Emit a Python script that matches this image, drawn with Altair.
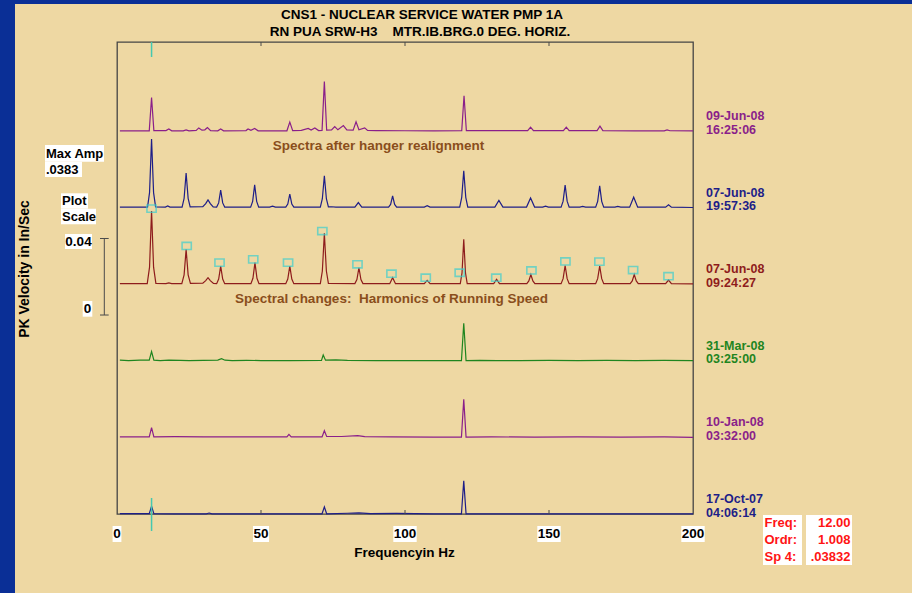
import altair as alt
import pandas as pd

# ------------------------------------------------------------------ data
TITLE_LINES = ["CNS1 - NUCLEAR SERVICE WATER PMP 1A",
               "RN PUA SRW-H3\u00a0\u00a0\u00a0\u00a0MTR.IB.BRG.0 DEG. HORIZ."]
Y_TITLE = "PK Velocity in In/Sec"
X_TITLE = "Frequencyin Hz"
X_TICKS = [0, 50, 100, 150, 200]
X_TICK_LABELS = ["0", "50", "100", "150", "200"]
INNER_TICKS = [50, 100, 150]

TRACE_DATES = ["09-Jun-08", "07-Jun-08", "07-Jun-08", "31-Mar-08", "10-Jan-08", "17-Oct-07"]
TRACE_TIMES = ["16:25:06", "19:57:36", "09:24:27", "03:25:00", "03:32:00", "04:06:14"]
TRACE_OFFSETS = [0.20, 0.16, 0.12, 0.08, 0.04, 0.00]          # in/sec waterfall offset
TRACE_COLORS = ["#8A1F8A", "#1E1E88", "#8E1C1C", "#1F851F", "#8A1F8A", "#1E1E88"]

# spectra: [frequency Hz, amplitude in/sec]
SPEC_09JUN = [[1, .0003], [11.2, .0003], [12, .0177], [12.8, .0004], [17, .0004], [18, .0012], [19, .0003],
              [23, .0003], [24, .0008], [25, .0003], [27.5, .0005], [28.4, .0018], [29.5, .0006], [30.5, .0008],
              [31.4, .0020], [32.5, .0004], [35, .0003], [36, .0012], [37, .0003], [44.8, .0004], [45.5, .0012],
              [46.5, .0005], [47.8, .0015], [49, .0003], [59, .0003], [60, .0048], [61, .0004], [64, .0005],
              [66.4, .0015], [67.4, .0007], [68.7, .0018], [70, .0004], [71.2, .0005], [72, .0261], [72.8, .0006],
              [74.5, .0008], [75.6, .0025], [76.7, .0008], [78.6, .0030], [79.8, .0008], [82, .0006], [83, .0050],
              [84, .0008], [86, .0018], [87, .0005], [90, .0004], [100, .0003], [110, .0002], [119.7, .0003],
              [120.5, .0186], [121.3, .0004], [130, .0004], [142.6, .0004], [143.6, .0022], [144.6, .0004],
              [155, .0004], [156, .0022], [157, .0004], [166.7, .0004], [167.7, .0027], [168.7, .0004],
              [180, .0003], [190, .0003], [191, .0008], [192, .0003], [200, .0002]]
SPEC_07JUN_B = [[1, .0004], [10.6, .0004], [11.3, .0080], [12, .0360], [12.7, .0080], [13.4, .0005],
                [16.8, .0004], [17.6, .0010], [18.4, .0004], [22.6, .0004], [23.3, .0050], [24, .0182],
                [24.7, .0050], [25.4, .0005], [29.8, .0006], [30.8, .0022], [31.6, .0042], [32.4, .0022],
                [33.4, .0005], [34.6, .0004], [35.3, .0026], [36, .0093], [36.7, .0026], [37.4, .0004],
                [46.4, .0004], [47.1, .0034], [47.8, .0120], [48.5, .0034], [49.2, .0004], [53, .0004],
                [54, .0009], [55, .0004], [58.6, .0004], [59.3, .0020], [60, .0072], [60.7, .0020], [61.4, .0004],
                [70.6, .0004], [71.3, .0048], [72, .0168], [72.7, .0048], [73.4, .0005], [74.5, .0006],
                [76, .0004], [82.6, .0004], [83.8, .0028], [85, .0004], [94.3, .0004], [95, .0018],
                [95.7, .0063], [96.4, .0018], [97.1, .0004], [106.7, .0004], [107.7, .0011], [108.7, .0004],
                [119, .0004], [119.7, .0055], [120.4, .0194], [121.1, .0055], [121.8, .0004], [131.2, .0004],
                [132.6, .0039], [134, .0004], [142.2, .0004], [143.6, .0052], [145, .0004], [147.8, .0004],
                [148.8, .0009], [149.8, .0004], [154.2, .0004], [154.9, .0035], [155.6, .0119], [156.3, .0035],
                [157, .0004], [160.7, .0004], [161.7, .0008], [162.7, .0004], [166.2, .0004], [166.9, .0034],
                [167.6, .0115], [168.3, .0034], [169, .0004], [172.9, .0004], [173.9, .0008], [174.9, .0004],
                [178, .0004], [179.4, .0056], [180.8, .0004], [190.5, .0004], [191.5, .0016], [192.5, .0004],
                [200, .0002]]
SPEC_07JUN_A = [[1, .0004], [10.5, .0004], [11.3, .0090], [12, .0383], [12.7, .0090], [13.5, .0005],
                [17, .0004], [18, .0008], [19, .0004], [22.5, .0004], [23.3, .0050], [24, .0183], [24.7, .0050],
                [25.5, .0005], [29.8, .0006], [30.8, .0020], [31.6, .0035], [32.4, .0020], [33.5, .0005],
                [34.6, .0004], [35.3, .0028], [36, .0096], [36.7, .0028], [37.4, .0004], [46.5, .0004],
                [47.2, .0032], [47.9, .0114], [48.6, .0032], [49.3, .0004], [58.6, .0004], [59.3, .0028],
                [60, .0096], [60.7, .0028], [61.4, .0004], [70.6, .0004], [71.3, .0070], [72, .0267],
                [72.7, .0070], [73.4, .0005], [82.6, .0004], [83.3, .0025], [84, .0087], [84.7, .0025],
                [85.4, .0004], [94.7, .0004], [95.7, .0035], [96.7, .0004], [106.7, .0004], [107.7, .0021],
                [108.7, .0004], [119.2, .0004], [119.8, .0060], [120.4, .0236], [121, .0060], [121.6, .0004],
                [130.8, .0004], [131.8, .0026], [132.8, .0004], [142.3, .0004], [143, .0018], [143.7, .0052],
                [144.4, .0018], [145.1, .0004], [154.2, .0004], [154.9, .0030], [155.6, .0099], [156.3, .0030],
                [157, .0004], [166.2, .0004], [166.9, .0030], [167.6, .0096], [168.3, .0030], [169, .0004],
                [178.2, .0004], [178.9, .0018], [179.6, .0052], [180.3, .0018], [181, .0004], [190.5, .0004],
                [191.5, .0023], [192.5, .0004], [200, .0003]]
SPEC_31MAR = [[1, .0004], [4, .0002], [8, .0004], [11.2, .0004], [12, .0049], [12.8, .0004], [15, .0002],
              [18, .0004], [22, .0003], [25, .0002], [30, .0003], [35, .0004], [36.3, .0012], [37.5, .0004],
              [40, .0002], [45, .0003], [50, .0002], [60, .0002], [71.0, .0003], [71.6, .0031], [72.4, .0004],
              [76, .0006], [80, .0003], [90, .0002], [100, .0002], [110, .0002], [119.6, .0002], [120.4, .0197],
              [121.2, .0002], [126, .0003], [132, .0002], [140, .0002], [150, .0003], [160, .0002], [170, .0003],
              [180, .0002], [190, .0003], [200, .0002]]
SPEC_10JAN = [[1, .0003], [11.2, .0003], [12, .0052], [12.8, .0003], [20, .0004], [30, .0003], [40, .0003],
              [50, .0003], [59, .0003], [59.7, .0016], [60.5, .0003], [71.2, .0003], [72, .0035], [72.8, .0005],
              [78, .0005], [83.6, .0010], [86, .0004], [95, .0003], [110, .0002], [119.6, .0002], [120.4, .0200],
              [121.2, .0002], [130, .0003], [145, .0002], [160, .0003], [175, .0002], [190, .0003], [200, .0001]]
SPEC_17OCT = [[1, .0002], [11.2, .0002], [12, .0040], [12.8, .0002], [20, .0001], [31, .0001], [32, .0005],
              [33, .0001], [50, .0001], [71.2, .0001], [72, .0037], [72.8, .0001], [80, .0004], [84, .0006],
              [88, .0002], [97, .0003], [110, .0001], [119.6, .0001], [120.4, .0173], [121.2, .0001],
              [140, .0001], [170, .0001], [200, .0001]]
SPECTRA = [SPEC_09JUN, SPEC_07JUN_B, SPEC_07JUN_A, SPEC_31MAR, SPEC_10JAN, SPEC_17OCT]

# harmonic markers on the 07-Jun-08 09:24:27 spectrum
MARK_HZ = [12.0, 24.2, 35.6, 47.3, 59.4, 71.3, 83.5, 95.3, 107.2, 119.0, 131.7, 143.9, 155.7, 167.5, 179.2, 191.5]
MARK_AMP = [.0396, .0201, .0114, .0131, .0114, .0279, .0105, .0056, .0035, .0061, .0035, .0073, .0120, .0119,
            .0075, .0043]
MARK_TRACE = 2

CURSOR_HZ = 12.0
PLOT_SCALE = 0.04
SCALE_BAR_BOTTOM = 0.104
MAX_AMP = ".0383"
READOUT_LABELS = ["Freq:", "Ordr:", "Sp 4:"]
READOUT_VALUES = ["12.00", "1.008", ".03832"]
NOTE_TOP = "Spectra after hanger realignment"
NOTE_MID = "Spectral changes:\u00a0\u00a0Harmonics of Running Speed"

# ------------------------------------------------------------------ setup
FONT = "Liberation Sans"
BG = "#EED8A3"
BLUE = "#0A2F96"
BROWN = "#8A4E1C"
CYAN = "#3FCFCF"
OX, OY = 117, 42
W, H = 576, 472

TRACE_IDS = [d + " " + t for d, t in zip(TRACE_DATES, TRACE_TIMES)]
XS = alt.Scale(domain=[0, 200], nice=False, zero=False)
YS = alt.Scale(domain=[0, 0.2467], nice=False, zero=False)
CS = alt.Scale(domain=TRACE_IDS, range=TRACE_COLORS)

rows = []
for tid, off, spec in zip(TRACE_IDS, TRACE_OFFSETS, SPECTRA):
    for hz, amp in spec:
        rows.append({"trace": tid, "hz": hz, "y": off + amp})
spec_df = pd.DataFrame(rows)

mark_df = pd.DataFrame({"hz": MARK_HZ, "y": [TRACE_OFFSETS[MARK_TRACE] + a for a in MARK_AMP]})
lab_df = pd.DataFrame({"trace": TRACE_IDS, "date": TRACE_DATES, "time": TRACE_TIMES, "off": TRACE_OFFSETS})
tick_df = pd.DataFrame({"hz": X_TICKS, "label": X_TICK_LABELS})
inner_df = pd.DataFrame({"hz": INNER_TICKS})
bar_df = pd.DataFrame({"y0": [SCALE_BAR_BOTTOM], "y1": [SCALE_BAR_BOTTOM + PLOT_SCALE]})
barticks_df = pd.DataFrame({"y": [SCALE_BAR_BOTTOM, SCALE_BAR_BOTTOM + PLOT_SCALE]})
ONE = pd.DataFrame({"k": [0]})


def rect_px(x1, y1, x2, y2, fill):
    return alt.Chart(ONE).mark_rect(color=fill).encode(
        x=alt.value(x1 - OX), x2=alt.value(x2 - OX), y=alt.value(y1 - OY), y2=alt.value(y2 - OY))


def text_px(txt, x, y, size=13, color="black", align="left", angle=None):
    kw = dict(text=txt, align=align, baseline="middle", font=FONT, fontSize=size,
              fontWeight="bold", color=color)
    if angle is not None:
        kw["angle"] = angle
    return alt.Chart(ONE).mark_text(**kw).encode(x=alt.value(x - OX), y=alt.value(y - OY))


layers = []
# slide frame
layers.append(rect_px(0, 0, 15, 593, BLUE))
layers.append(rect_px(0, 0, 912, 4, BLUE))

# spectra
layers.append(alt.Chart(spec_df).mark_line(strokeWidth=1.2).encode(
    x=alt.X("hz:Q", scale=XS, axis=None),
    y=alt.Y("y:Q", scale=YS, axis=None),
    color=alt.Color("trace:N", scale=CS, legend=None)))

# harmonic markers
layers.append(alt.Chart(mark_df).mark_point(
    shape="M-1.15,-0.9L1.15,-0.9L1.15,0.9L-1.15,0.9Z", filled=False, size=64,
    strokeWidth=1.6, color=CYAN).encode(
    x=alt.X("hz:Q", scale=XS), y=alt.Y("y:Q", scale=YS)))

# inner ticks top & bottom
layers.append(alt.Chart(inner_df).mark_rule(color="#4a4a4a", strokeWidth=1).encode(
    x=alt.X("hz:Q", scale=XS), y=alt.value(0), y2=alt.value(4)))
layers.append(alt.Chart(inner_df).mark_rule(color="#4a4a4a", strokeWidth=1).encode(
    x=alt.X("hz:Q", scale=XS), y=alt.value(H - 4), y2=alt.value(H)))

# cursor
layers.append(alt.Chart(ONE).mark_rule(color="#45C8B0", strokeWidth=1.5).encode(
    x=alt.datum(CURSOR_HZ, scale=XS), y=alt.value(0), y2=alt.value(15)))
layers.append(alt.Chart(ONE).mark_rule(color="#45C8B0", strokeWidth=1.5).encode(
    x=alt.datum(CURSOR_HZ, scale=XS), y=alt.value(498 - OY), y2=alt.value(531 - OY)))

# x tick labels with white boxes
layers.append(alt.Chart(tick_df).transform_calculate(
    x1="datum.hz - (length(datum.label) * 7.3 + 1.5) / 5.76",
    x2="datum.hz + (length(datum.label) * 7.3 + 1.5) / 5.76").mark_rect(color="white").encode(
    x=alt.X("x1:Q", scale=XS), x2="x2:Q", y=alt.value(526 - OY), y2=alt.value(542 - OY)))
layers.append(alt.Chart(tick_df).mark_text(
    font=FONT, fontSize=13.5, fontWeight="bold", color="black", baseline="middle", align="center").encode(
    x=alt.X("hz:Q", scale=XS), y=alt.value(534 - OY), text="label:N"))

# right-hand spectrum labels
for field, dy in (("date", -15), ("time", -1.5)):
    layers.append(alt.Chart(lab_df).mark_text(
        font=FONT, fontSize=12.5, fontWeight="bold", align="left", baseline="middle", dy=dy).encode(
        x=alt.value(706 - OX), y=alt.Y("off:Q", scale=YS), text=f"{field}:N",
        color=alt.Color("trace:N", scale=CS, legend=None)))

# plot-scale bar
layers.append(alt.Chart(bar_df).mark_rule(color="#4a4a4a", strokeWidth=1).encode(
    x=alt.value(104.3 - OX), y=alt.Y("y0:Q", scale=YS), y2="y1:Q"))
layers.append(alt.Chart(barticks_df).mark_rule(color="#4a4a4a", strokeWidth=1).encode(
    x=alt.value(100 - OX), x2=alt.value(108.7 - OX), y=alt.Y("y:Q", scale=YS)))

# left info boxes
layers += [rect_px(45, 145, 104, 161.7, "white"), rect_px(45, 161.7, 82, 177, "white"),
           rect_px(61, 193.3, 88, 208.7, "white"), rect_px(61, 208.7, 96, 224.3, "white"),
           rect_px(65, 234, 92, 249, "white"), rect_px(82.7, 301, 92.3, 316.7, "white")]
layers += [text_px("Max Amp", 46, 153.5, 13), text_px(MAX_AMP, 46, 169.5, 13),
           text_px("Plot", 62, 201, 13), text_px("Scale", 62, 216.5, 13),
           text_px(f"{PLOT_SCALE:.2f}", 78.5, 241.5, 13.5, align="center"),
           text_px("0", 87.5, 309, 13.5, align="center")]

# readout boxes
layers += [rect_px(763, 515, 802, 565, "white"), rect_px(806, 515, 852, 565, "white")]
for i, (lab, val) in enumerate(zip(READOUT_LABELS, READOUT_VALUES)):
    yy = 523.3 + i * 16.8
    layers.append(text_px(lab, 764.5, yy, 13, color="#FF1414"))
    layers.append(text_px(val, 850.5, yy, 13, color="#FF1414", align="right"))

# titles and notes
layers += [text_px(TITLE_LINES[0], 422, 15, 13.5, align="center"),
           text_px(TITLE_LINES[1], 420, 32, 13.5, align="center"),
           text_px(Y_TITLE, 24.5, 269, 14, angle=270, align="center"),
           text_px(X_TITLE, 404.5, 553, 13.5, align="center"),
           text_px(NOTE_TOP, 378.5, 146, 13.5, color=BROWN, align="center"),
           text_px(NOTE_MID, 391.5, 299, 13.5, color=BROWN, align="center")]

chart = alt.layer(*layers).properties(
    width=W, height=H, background=BG,
    padding={"left": OX, "top": OY, "right": 912 - OX - W, "bottom": 593 - OY - H},
    autosize=alt.AutoSizeParams(type="none"),
).configure_view(stroke="#454545", strokeWidth=1.3)

chart.save("out.html", embed_options={"renderer": "svg", "actions": False})
